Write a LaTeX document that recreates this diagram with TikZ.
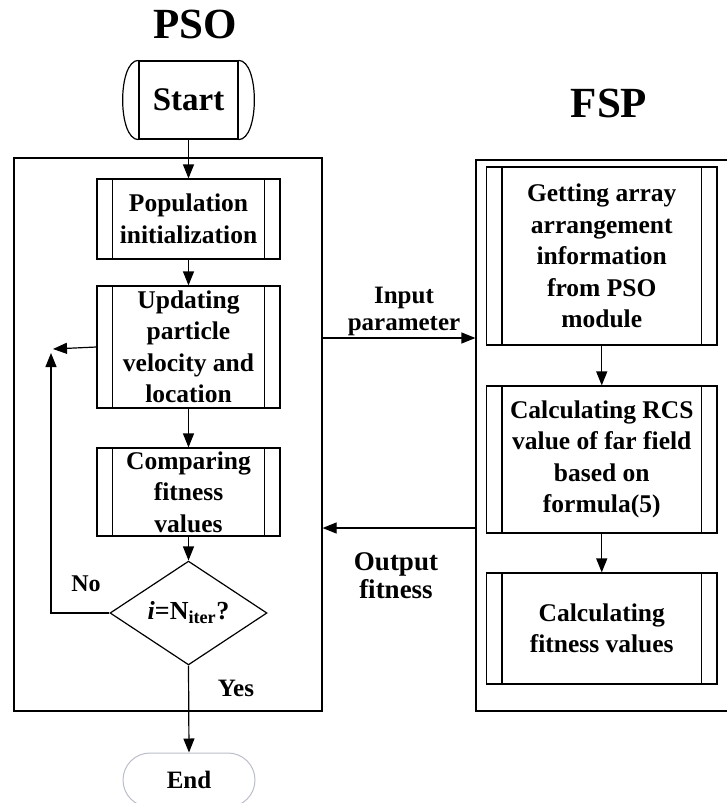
\documentclass[tikz,border=0pt]{standalone}
\usepackage{fontspec}
\setmainfont{Liberation Serif}
\usetikzlibrary{arrows.meta,shapes.geometric}
\definecolor{endgray}{RGB}{185,190,200}
\begin{document}
\begin{tikzpicture}[x=1pt,y=-1pt, line width=1.2pt,
  box/.style={draw, rectangle, inner sep=0pt, align=center, font=\fontsize{25.5}{31.5}\selectfont\bfseries},
  lbl/.style={align=center, inner sep=0pt, font=\fontsize{25}{27}\selectfont\bfseries},
  title/.style={inner sep=0pt, font=\fontsize{43}{50}\selectfont\bfseries},
  arr/.style={-{Triangle[length=14pt,width=11pt]}},
  frame/.style={draw, rectangle, inner sep=0pt}]
\clip (0,0) rectangle (727,803);
% titles
\node[title] (psot) at (195,24) {PSO};
\node[title] (fspt) at (609,103) {FSP};
% module frames
\node[frame, minimum width=308pt, minimum height=553pt] (psobox) at (168,434.5) {};
\node[frame, minimum width=264pt, minimum height=551pt] (fspbox) at (608,435.5) {};
% start
\node[draw, inner sep=0pt, minimum width=99pt, minimum height=78pt, font=\fontsize{33}{40}\selectfont\bfseries] (start) at (188.5,100) {Start};
\draw (start.north west) .. controls +(-21,0) and +(-21,0) .. (start.south west);
\draw (start.north east) .. controls +(21,0) and +(21,0) .. (start.south east);
% PSO boxes
\node[box, minimum width=183pt, minimum height=80pt] (pop) at (188.5,219) {Population\\initialization};
\node[box, minimum width=183pt, minimum height=122pt] (upd) at (188.5,347) {Updating\\particle\\velocity and\\location};
\node[box, minimum width=183pt, minimum height=88pt] (cmp) at (188.5,492) {Comparing\\fitness\\values};
\node[draw, diamond, minimum width=157pt, minimum height=94pt, inner sep=0pt, font=\fontsize{26}{30}\selectfont\bfseries] (dia) at (188.5,613) {\textit{i}=N\textsubscript{iter}?};
% FSP boxes
\node[box, minimum width=230.5pt, minimum height=178pt] (get) at (601.75,256) {Getting array\\arrangement\\information\\from PSO\\module};
\node[box, minimum width=230.5pt, minimum height=147pt] (rcs) at (601.75,459.5) {Calculating RCS\\value of far field\\based on\\formula(5)};
\node[box, minimum width=230.5pt, minimum height=111pt] (fit) at (601.75,628.5) {Calculating\\fitness values};
\foreach \n in {pop,upd,cmp,get,rcs,fit} {
  \draw ([xshift=16pt]\n.north west) -- ([xshift=16pt]\n.south west);
  \draw ([xshift=-16pt]\n.north east) -- ([xshift=-16pt]\n.south east);
}
% end
\node[draw=endgray, line width=1pt, rounded corners=27pt, minimum width=132pt, minimum height=54pt, inner sep=0pt, font=\fontsize{25}{30}\selectfont\bfseries] (endn) at (189,780) {End};
% connectors
\draw[arr] (start.south) -- (pop.north);
\draw[arr] (pop.south) -- (upd.north);
\draw[arr] (upd.south) -- (cmp.north);
\draw[arr] (cmp.south) -- (dia.north);
\draw[arr] (dia.south) -- (endn.north);
\coordinate (loopup) at (51,353);
\coordinate (loopleft) at (53,349);
\draw[arr] (dia.west) -| (loopup);
\draw[arr] (upd.west) -- (loopleft);
\draw[arr] (get.south) -- (rcs.north);
\draw[arr] (rcs.south) -- (fit.north);
\draw[arr] (psobox.east |- 0,338) -- (fspbox.west |- 0,338);
\draw[arr] (fspbox.west |- 0,528) -- (psobox.east |- 0,528);
% labels
\node[lbl] (inlbl) at (404,311) {Input\\parameter};
\node[lbl, font=\fontsize{27}{28}\selectfont\bfseries] (outlbl) at (396,576) {Output\\fitness};
\node[lbl, font=\fontsize{24}{28}\selectfont\bfseries] (nolbl) at (86,584) {No};
\node[lbl] (yeslbl) at (236,688) {Yes};
\end{tikzpicture}
\end{document}
